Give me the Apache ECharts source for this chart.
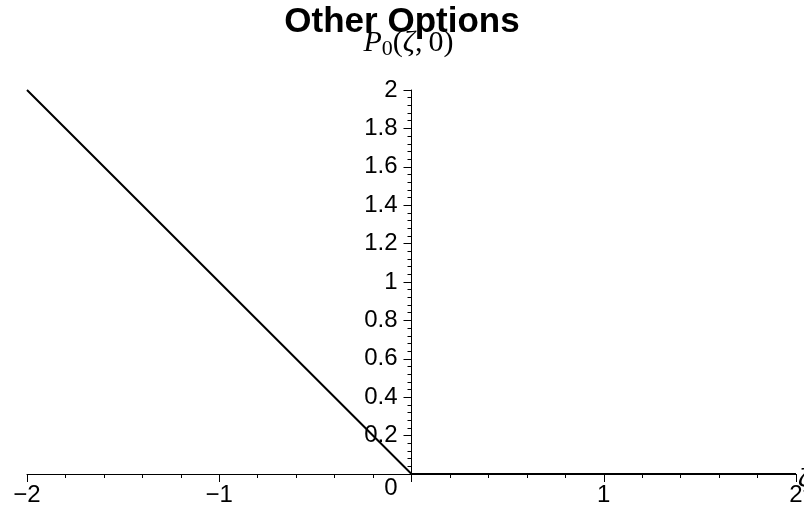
<!DOCTYPE html>
<html>
<head>
<meta charset="utf-8">
<script src="https://cdn.jsdelivr.net/npm/echarts@6/dist/echarts.min.js"></script>
<style>
html,body{margin:0;padding:0;background:#fff;}
#main{width:804px;height:510px;}
</style>
</head>
<body>
<div id="main"></div>
<script>
// P0(zeta,0) piecewise line
var zeta = [-2, 0, 2];
var p0 = [2, 0, 0];
var titleText = 'Other Options';

var pts = [];
for (var i = 0; i < zeta.length; i++) {
    pts.push([zeta[i], p0[i]]);
}

var gridLeft = 27;
var myChart = echarts.init(document.getElementById('main'));
myChart.setOption({
    animation: false,
    backgroundColor: '#fff',
    title: {
        text: titleText,
        left: 'center',
        top: 0,
        textStyle: {
            fontFamily: 'Liberation Sans',
            fontWeight: 'bold',
            fontSize: 35,
            color: '#000'
        }
    },
    grid: {
        left: gridLeft,
        right: 8,
        top: 90,
        bottom: 36,
        containLabel: false,
        outerBoundsMode: 'none'
    },
    xAxis: {
        type: 'value',
        min: -2,
        max: 2,
        interval: 1,
        name: 'ζ',
        nameLocation: 'end',
        nameGap: 2,
        nameMoveOverlap: false,
        nameTextStyle: {
            fontFamily: 'Liberation Serif',
            fontStyle: 'italic',
            fontSize: 28,
            color: '#000',
            align: 'left',
            verticalAlign: 'top',
            padding: [-9, 0, 0, 0]
        },
        splitLine: { show: false },
        axisLine: { onZero: true, lineStyle: { color: '#000', width: 1 } },
        axisTick: { length: 8, lineStyle: { color: '#000' } },
        minorTick: { show: true, splitNumber: 5, length: 4, lineStyle: { color: '#000' } },
        axisLabel: {
            margin: 9,
            fontFamily: 'Liberation Sans',
            fontSize: 24,
            color: '#000',
            formatter: function (v) {
                if (v === 0) return '';
                return String(v).replace('-', '\u2212');
            }
        }
    },
    yAxis: {
        type: 'value',
        min: 0,
        max: 2,
        interval: 0.2,
        name: '{i|P}{s|0}{n|(}{i|ζ}{n|,\u20090)}',
        nameLocation: 'end',
        nameGap: 30,
        nameTextStyle: {
            color: '#000',
            padding: [0, 6, 0, 0],
            rich: {
                i: { fontFamily: 'Liberation Serif', fontStyle: 'italic', fontSize: 30, color: '#000' },
                s: { fontFamily: 'Liberation Serif', fontSize: 22, color: '#000', padding: [12, 0, 0, 0] },
                n: { fontFamily: 'Liberation Serif', fontSize: 30, color: '#000' }
            }
        },
        splitLine: { show: false },
        axisLine: { onZero: false, lineStyle: { color: '#000', width: 1 } },
        axisTick: { length: 8, lineStyle: { color: '#000' } },
        minorTick: { show: true, splitNumber: 5, length: 4, lineStyle: { color: '#000' } },
        axisLabel: {
            margin: 14,
            fontFamily: 'Liberation Sans',
            fontSize: 24,
            color: '#000',
            formatter: function (v) {
                if (v === 0) return '{z|0}';
                return String(Math.round(v * 10) / 10);
            },
            rich: {
                z: { fontFamily: 'Liberation Sans', fontSize: 24, color: '#000', padding: [28, 0, 0, 0] }
            }
        }
    },
    series: [{
        type: 'line',
        data: pts,
        symbol: 'none',
        lineStyle: { color: '#000', width: 2 }
    }]
});

// move the y axis (line, ticks, labels) to zeta = 0
var zeroX = myChart.convertToPixel({ xAxisIndex: 0 }, 0);
myChart.setOption({ yAxis: { offset: gridLeft - zeroX } });
</script>
</body>
</html>
